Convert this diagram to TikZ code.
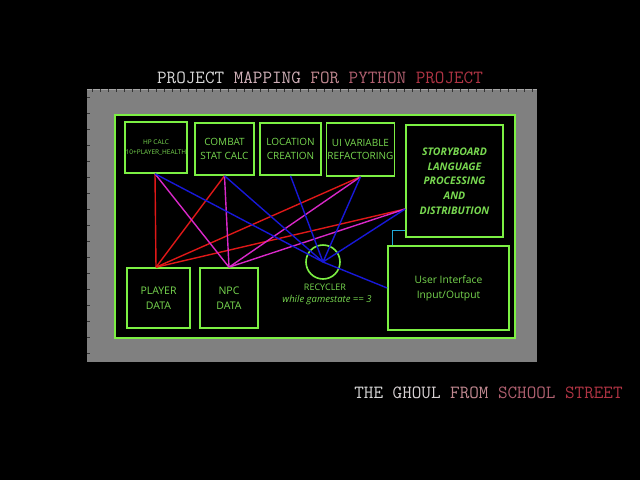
\documentclass[tikz,border=0pt]{standalone}
\usepackage{fontspec}
\setmainfont{Open Sans}
\usetikzlibrary{calc}
\definecolor{grn}{HTML}{7CF043}
\definecolor{grntxt}{HTML}{78D850}
\definecolor{cred}{HTML}{E01818}
\definecolor{cmag}{HTML}{D828C8}
\definecolor{cblu}{HTML}{1818D8}
\definecolor{ccya}{HTML}{20A8D8}
\definecolor{gbg}{HTML}{808080}
\definecolor{tA}{HTML}{D8D8D8}
\definecolor{tB}{HTML}{D0B0B8}
\definecolor{tC}{HTML}{C08890}
\definecolor{tD}{HTML}{B06070}
\definecolor{tE}{HTML}{B03444}
\tikzset{
  box/.style={draw=grn, line width=1.6pt, fill=black, text=grntxt, align=center, inner sep=1pt, font=\fontsize{10}{13.5}\selectfont},
  wire/.style={line width=1.4pt},
  ttl/.style={font=\ttfamily\fontsize{18.6}{20}\selectfont, inner sep=0pt}
}
\begin{document}
\begin{tikzpicture}[x=1pt,y=-1pt]
\fill[black] (0,0) rectangle (640,480);
\useasboundingbox (0,0) rectangle (640,480);
% gray panel
\fill[gbg] (87,89) rectangle (537,362);
\draw[gray!70!white, line width=1pt] (87,89.5) -- (537,89.5);
\foreach \i in {0,...,55} {\draw[gray!40!black, line width=0.4pt] (92+\i*8,89) -- (92+\i*8,91.5);}
\foreach \i in {0,...,16} {\draw[gray!40!black, line width=0.4pt] (87,97+\i*16) -- (89.5,97+\i*16);}
% green frame
\draw[grn, line width=2.6pt, fill=black] (115,115) rectangle (515,338);
% titles
\node[ttl] (title) at (320,78) {\textcolor{tA}{PROJECT} \textcolor{tB}{MAPPING} \textcolor{tC}{FOR} \textcolor{tD}{PYTHON} \textcolor{tE}{PROJECT}};
\node[ttl] (sub) at (488.5,393) {\textcolor{tA}{THE} \textcolor{tA!80!tB}{GHOUL} \textcolor{tC}{FROM} \textcolor{tD}{SCHOOL} \textcolor{tE}{STREET}};
% boxes
\node[box, minimum width=62pt, minimum height=51pt, font=\fontsize{6.5}{10}\selectfont] (hp) at (156,147.5) {\makebox[0pt]{HP CALC}\\\makebox[0pt]{(10+PLAYER\_HEALTH)}};
\node[box, minimum width=59pt, minimum height=52pt] (combat) at (224.5,149) {COMBAT\\STAT CALC};
\node[box, minimum width=61pt, minimum height=52pt] (loc) at (290.5,149) {LOCATION\\CREATION};
\node[box, minimum width=67pt, minimum height=53pt] (uivar) at (360.5,149.5) {UI VARIABLE\\REFACTORING};
\node[box, minimum width=97pt, minimum height=112pt, font=\fontsize{10.5}{14.7}\selectfont\itshape\bfseries] (story) at (454.5,181) {STORYBOARD\\LANGUAGE\\PROCESSING\\AND\\DISTRIBUTION};
\node[box, minimum width=63pt, minimum height=60pt, font=\fontsize{10.5}{14.5}\selectfont] (player) at (158.5,298) {PLAYER\\DATA};
\node[box, minimum width=58pt, minimum height=60pt, font=\fontsize{10.5}{14.5}\selectfont] (npc) at (229,298) {NPC\\DATA};
\node[box, minimum width=121pt, minimum height=84pt, font=\fontsize{10.3}{15}\selectfont] (ui) at (448.5,288) {User Interface\\Input/Output};
% connectors
\coordinate (hpS) at ($(hp.south)+(-1,0)$);
\coordinate (plN) at ($(player.north)+(-2.5,0)$);
\coordinate (sbW) at ($(story.west)+(0,28)$);
\draw[wire, cred] (hpS) -- (plN);
\draw[wire, cred] (combat.south) -- (plN);
\draw[wire, cred] (uivar.south) -- (plN);
\draw[wire, cred] (sbW) -- (plN);
\draw[wire, cmag] (hpS) -- (npc.north);
\draw[wire, cmag] (combat.south) -- (npc.north);
\draw[wire, cmag] (uivar.south) -- (npc.north);
\draw[wire, cmag] (sbW) -- (npc.north);
\node[draw=grn, line width=1.6pt, circle, minimum size=34pt, inner sep=0pt] (rec) at (323,262) {};
\draw[wire, cblu] (hpS) -- (rec.center);
\draw[wire, cblu] (combat.south) -- (rec.center);
\draw[wire, cblu] (loc.south) -- (rec.center);
\draw[wire, cblu] (uivar.south) -- (rec.center);
\draw[wire, cblu] (sbW) -- (rec.center);
\draw[wire, cblu] (rec.center) -- (ui.west);
\draw[ccya, line width=1.2pt] ($(story.south west)+(0,-7)$) -| ($(ui.north west)+(5,0)$);
\node[text=grntxt, font=\fontsize{9}{10}\selectfont, inner sep=0pt] (reclbl) at (325,287) {RECYCLER};
\node[text=grntxt, font=\fontsize{9.5}{10}\selectfont\itshape, inner sep=0pt] (recsub) at (327,300) {while gamestate == 3};
\end{tikzpicture}
\end{document}
